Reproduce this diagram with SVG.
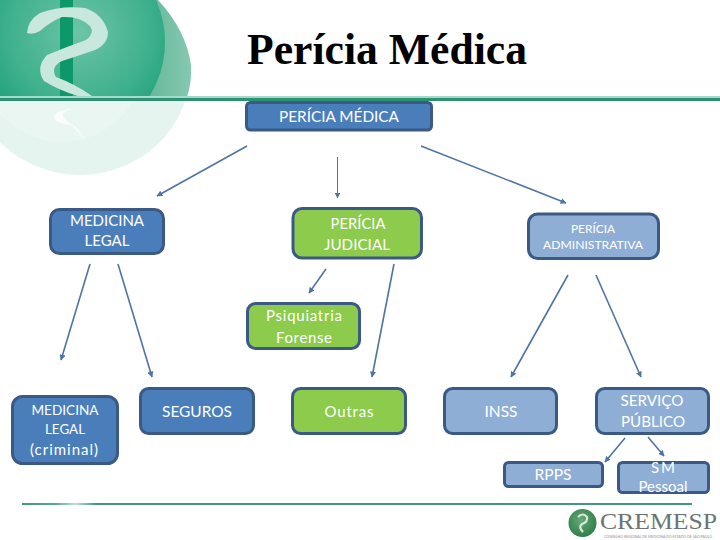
<svg xmlns="http://www.w3.org/2000/svg" width="720" height="540" viewBox="0 0 720 540">
<defs>
<radialGradient id="g" cx="0.58" cy="0.45" r="0.58"><stop offset="0" stop-color="#6cc4a6"/><stop offset="0.6" stop-color="#3fb08d"/><stop offset="1" stop-color="#169c75"/></radialGradient>
<linearGradient id="lens" x1="0" y1="0" x2="1" y2="0"><stop offset="0" stop-color="#5fb598"/><stop offset="1" stop-color="#86c8b0"/></linearGradient>
<linearGradient id="fl" x1="0" y1="0" x2="1" y2="0"><stop offset="0" stop-color="#3f9a7c"/><stop offset="0.05" stop-color="#5aa78c"/><stop offset="0.08" stop-color="#c3dfd4"/><stop offset="0.11" stop-color="#3f9a7c"/><stop offset="1" stop-color="#3f9a7c"/></linearGradient>
<radialGradient id="ic" cx="0.45" cy="0.4" r="0.6"><stop offset="0" stop-color="#6aa87a"/><stop offset="1" stop-color="#2f7f4a"/></radialGradient>
<marker id="a" viewBox="0 0 10 10" refX="9" refY="5" markerWidth="6" markerHeight="6" markerUnits="userSpaceOnUse" orient="auto"><path d="M0 0L10 5L0 10Z" fill="#4f74a4"/></marker>
<clipPath id="top"><rect x="0" y="0" width="240" height="96"/></clipPath>
<clipPath id="bot"><rect x="0" y="101" width="240" height="80"/></clipPath>
</defs>
<style>
.n{stroke:#3a5a85;stroke-width:3}
.b{fill:#4a7ebb}.l{fill:#8faed6}.v{fill:#8ccb4c}
text{font-family:Lato,"Open Sans",sans-serif;fill:#fff;text-anchor:middle;font-size:15px}
.c{stroke:#4f74a4;stroke-width:1.6;fill:none;marker-end:url(#a)}
</style>
<rect width="720" height="540" fill="#fff"/>
<g id="logo">
<g clip-path="url(#bot)"><ellipse cx="80" cy="70" rx="110" ry="105" fill="#e6f4f0"/><ellipse cx="62" cy="50" rx="86" ry="92" fill="#e9f6f2"/><path d="M90 103L58 112Q50 117 58 122L72 126L86 140L76 127Q62 120 63 114Q68 108 90 103Z" fill="#f9fdfc"/></g>
<g clip-path="url(#top)">
<path d="M150 0H158Q186 30 191 65Q192 82 187 97H140Z" fill="url(#lens)"/>
<ellipse cx="63" cy="42" rx="102" ry="102" fill="url(#g)"/>
<rect x="60" y="0" width="13" height="96" fill="#0c9868"/>
<path d="M27 33Q28 20 40 13Q62 5 85 8Q103 14 108 32Q108 44 95 50Q78 56 62 61Q50 67 56 77Q75 84 92 96L78 96Q58 90 44 81Q35 68 47 55Q66 47 86 40Q95 33 90 26Q80 16 62 17Q50 22 40 31Q33 35 27 33Z" fill="#c8e7dd"/>
</g>
<rect x="0" y="96" width="720" height="2.500" fill="#a8d8c8"/>
<rect x="0" y="98" width="720" height="3" fill="#2b9273"/>
</g>
<text x="387" y="64" textLength="280" lengthAdjust="spacingAndGlyphs" style="font-family:'Liberation Serif',serif;font-weight:bold;font-size:44px;fill:#000">Perícia Médica</text>
<g id="connectors">
<line class="c" x1="247" y1="146" x2="157" y2="196"/>
<line class="c" x1="337.500" y1="157" x2="337.500" y2="198" style="stroke-width:1"/>
<line class="c" x1="421" y1="146" x2="566" y2="203"/>
<line class="c" x1="90" y1="264" x2="61" y2="360"/>
<line class="c" x1="118" y1="264" x2="152" y2="377"/>
<line class="c" x1="326" y1="269" x2="309" y2="293"/>
<line class="c" x1="394" y1="264" x2="372" y2="377"/>
<line class="c" x1="568" y1="275" x2="511" y2="377"/>
<line class="c" x1="596" y1="275" x2="641" y2="377"/>
<line class="c" x1="625" y1="438" x2="605" y2="462"/>
<line class="c" x1="648" y1="437" x2="664" y2="456"/>
</g>
<g id="pericia-medica"><rect class="n b" x="246.500" y="102.500" width="185" height="27.500" rx="4"/><text x="339" y="122" textLength="120" lengthAdjust="spacingAndGlyphs">PERÍCIA MÉDICA</text></g>
<g id="medicina-legal"><rect class="n b" x="50.500" y="209.500" width="113" height="44" rx="9"/><text x="107" y="226" textLength="74" lengthAdjust="spacingAndGlyphs">MEDICINA</text><text x="107" y="246" textLength="45" lengthAdjust="spacingAndGlyphs">LEGAL</text></g>
<g id="pericia-judicial"><rect class="n v" x="293" y="208.500" width="128.500" height="49.500" rx="9"/><text x="358" y="229" textLength="55" lengthAdjust="spacingAndGlyphs">PERÍCIA</text><text x="357" y="250" textLength="66" lengthAdjust="spacingAndGlyphs">JUDICIAL</text></g>
<g id="pericia-administrativa"><rect class="n l" x="528.500" y="214" width="130" height="44.500" rx="9"/><text x="593" y="233" style="font-size:12px" textLength="44" lengthAdjust="spacingAndGlyphs">PERÍCIA</text><text x="593" y="249" style="font-size:12px" textLength="100" lengthAdjust="spacingAndGlyphs">ADMINISTRATIVA</text></g>
<g id="psiquiatria"><rect class="n v" x="247.500" y="303.500" width="112" height="45" rx="8"/><text x="304" y="321" textLength="76">Psiquiatria</text><text x="304" y="343" textLength="56">Forense</text></g>
<g id="medicina-criminal"><rect class="n b" x="12.500" y="396.500" width="105" height="67" rx="10"/><text x="65" y="415" style="font-size:14px" textLength="67" lengthAdjust="spacingAndGlyphs">MEDICINA</text><text x="65" y="434" style="font-size:14px" textLength="40" lengthAdjust="spacingAndGlyphs">LEGAL</text><text x="64" y="455" textLength="68">(criminal)</text></g>
<g id="seguros"><rect class="n b" x="140.500" y="388.500" width="113" height="45" rx="8"/><text x="197" y="417" textLength="70" lengthAdjust="spacingAndGlyphs">SEGUROS</text></g>
<g id="outras"><rect class="n v" x="292.500" y="388.500" width="113" height="45" rx="8"/><text x="349" y="417" textLength="49">Outras</text></g>
<g id="inss"><rect class="n l" x="444.500" y="388.500" width="112" height="45" rx="8"/><text x="501" y="417" textLength="33" lengthAdjust="spacingAndGlyphs">INSS</text></g>
<g id="servico-publico"><rect class="n l" x="596.500" y="388.500" width="112" height="45" rx="8"/><text x="652" y="406" textLength="63" lengthAdjust="spacingAndGlyphs">SERVIÇO</text><text x="653" y="427" textLength="64" lengthAdjust="spacingAndGlyphs">PÚBLICO</text></g>
<g id="rpps"><rect class="n l" x="504.500" y="462.500" width="98" height="24" rx="4"/><text x="553" y="480" textLength="37" lengthAdjust="spacingAndGlyphs">RPPS</text></g>
<g id="sm-pessoal"><rect class="n l" x="618.500" y="462.500" width="90" height="30" rx="4"/><text x="663" y="473" textLength="24">S M</text><text x="663" y="492" textLength="49">Pessoal</text></g>
<g id="footer">
<rect x="22" y="503" width="670" height="2" fill="url(#fl)"/>
<circle cx="582.500" cy="523" r="14" fill="url(#ic)"/>
<path d="M578 517Q583 512 587 517Q588 522 582 524Q578 527 583 532" fill="none" stroke="#d5ebd8" stroke-width="2.200"/>
<text x="658.500" y="529" textLength="117" lengthAdjust="spacingAndGlyphs" style="font-family:'Liberation Serif',serif;font-size:23.500px;fill:#6b7472">CREMESP</text>
<text x="658" y="537.500" textLength="108" lengthAdjust="spacingAndGlyphs" style="font-size:3.500px;fill:#8a908e">CONSELHO REGIONAL DE MEDICINA DO ESTADO DE SÃO PAULO</text>
</g>
</svg>
